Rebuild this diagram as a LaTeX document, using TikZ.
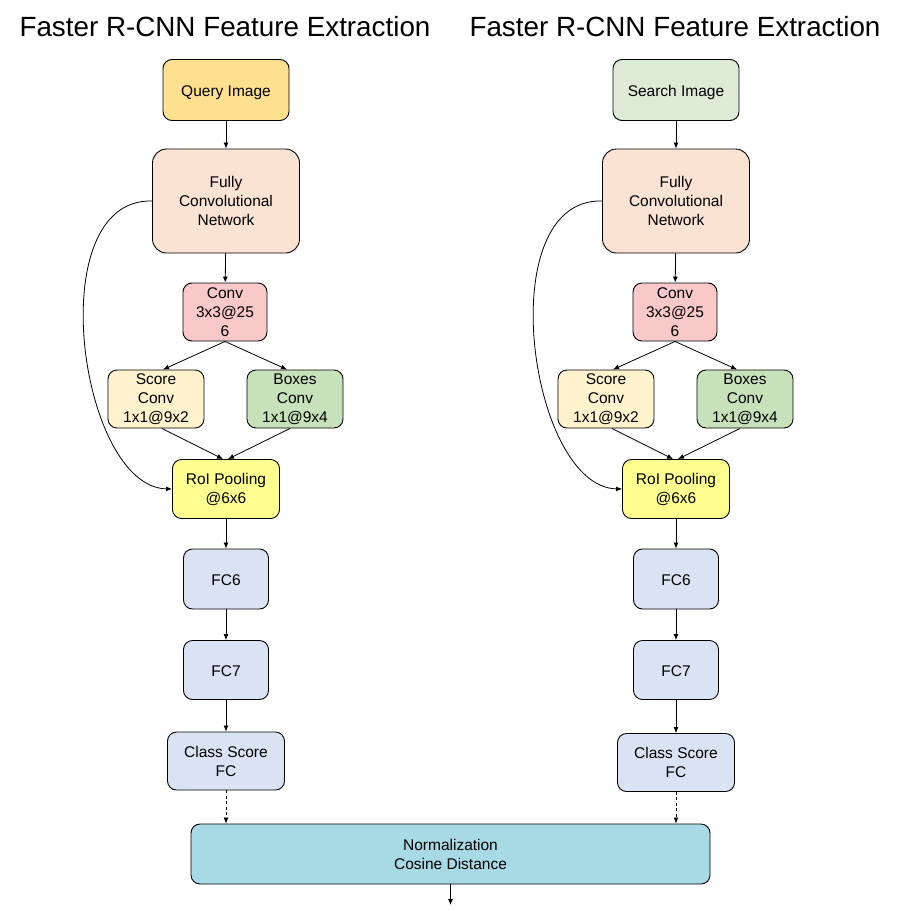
\documentclass[tikz,border=0pt]{standalone}
\usepackage{fontspec}
\setmainfont{Liberation Sans}
\usetikzlibrary{arrows.meta}
\definecolor{cquery}{HTML}{FFE08F}
\definecolor{csearch}{HTML}{DDEBD6}
\definecolor{cfcn}{HTML}{FBE3D4}
\definecolor{cconv}{HTML}{F9C9C9}
\definecolor{cscore}{HTML}{FFF2CC}
\definecolor{cboxes}{HTML}{C7E1BA}
\definecolor{croi}{HTML}{FFFF8F}
\definecolor{cfc}{HTML}{DAE3F4}
\definecolor{cnorm}{HTML}{A8DAE5}
\tikzset{
  blk/.style={draw=black, line width=0.9pt, rounded corners=9pt, align=center,
    inner sep=0pt, font=\fontsize{15.5}{19}\selectfont},
  oneline/.style={text height=13pt, text depth=0pt},
  ttl/.style={inner sep=0pt, font=\fontsize{27.8}{32}\selectfont},
  arr/.style={-{Latex[length=6pt,width=5pt]}, line width=0.8pt},
  darr/.style={arr, dashed, dash pattern=on 3pt off 2.5pt},
}
\begin{document}
\begin{tikzpicture}[x=1pt,y=-1pt]
\useasboundingbox (0,0) rectangle (902,910);
\foreach \s/\dx/\img/\imgc/\cy in {L/0/Query Image/cquery/761, R/450/Search Image/csearch/762.5}{
  \node[ttl] (title\s) at (225+\dx,26.5) {Faster R-CNN Feature Extraction};
  \node[blk, oneline, fill=\imgc, minimum width=126pt, minimum height=61pt] (img\s) at (226+\dx,90) {\img};
  \node[blk, fill=cfcn, rounded corners=14pt, minimum width=147pt, minimum height=104pt] (fcn\s) at (226+\dx,201) {Fully\\Convolutional\\Network};
  \node[blk, fill=cconv, minimum width=84pt, minimum height=58pt] (conv\s) at (225+\dx,312) {Conv\\3x3@25\\6};
  \node[blk, fill=cscore, minimum width=96pt, minimum height=58pt] (score\s) at (156+\dx,399) {Score\\Conv\\1x1@9x2};
  \node[blk, fill=cboxes, minimum width=96pt, minimum height=58pt] (boxes\s) at (295+\dx,399) {Boxes\\Conv\\1x1@9x4};
  \node[blk, fill=croi, minimum width=107pt, minimum height=59pt] (roi\s) at (226+\dx,489) {RoI Pooling\\@6x6};
  \node[blk, oneline, fill=cfc, minimum width=85pt, minimum height=60pt] (fcsix\s) at (226+\dx,579) {FC6};
  \node[blk, oneline, fill=cfc, minimum width=85pt, minimum height=59pt] (fcseven\s) at (226+\dx,670) {FC7};
  \node[blk, fill=cfc, minimum width=117pt, minimum height=58pt] (cls\s) at (226+\dx,\cy) {Class Score\\FC};
  \draw[arr] (img\s) -- (fcn\s);
  \draw[arr] (fcn\s) -- (conv\s);
  \draw[arr] (conv\s.south) -- ([xshift=7pt]score\s.north);
  \draw[arr] (conv\s.south) -- ([xshift=-8pt]boxes\s.north);
  \draw[arr] ([xshift=6pt]score\s.south) -- ([xshift=-3pt]roi\s.north);
  \draw[arr] ([xshift=-5pt]boxes\s.south) -- ([xshift=2pt]roi\s.north);
  \draw[arr] (fcn\s.west) .. controls +(-112pt,3pt) and +(-93pt,2pt) .. (roi\s.west);
  \draw[arr] (roi\s) -- (fcsix\s);
  \draw[arr] (fcsix\s) -- (fcseven\s);
  \draw[arr] (fcseven\s) -- (cls\s);
}
\node[blk, fill=cnorm, minimum width=519pt, minimum height=60pt] (norm) at (450.5,854) {Normalization\\Cosine Distance};
\coordinate (out) at (450.5,905);
\draw[darr] (clsL.south) -- (clsL.south |- norm.north);
\draw[darr] (clsR.south) -- (clsR.south |- norm.north);
\draw[arr] (norm.south) -- (out);
\end{tikzpicture}
\end{document}
